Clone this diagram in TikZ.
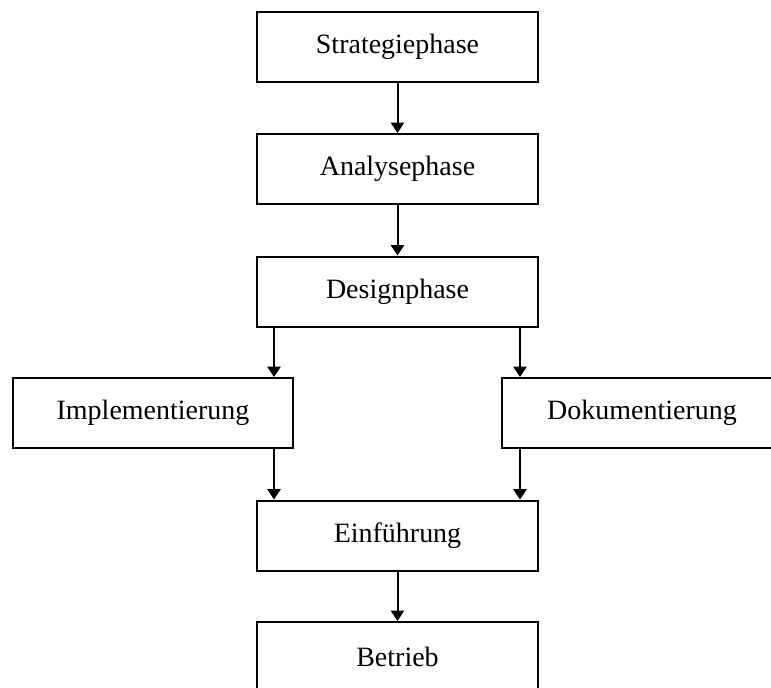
\documentclass[tikz,border=0pt]{standalone}
\usepackage{fontspec}
\setmainfont{Liberation Serif}
\usepackage{tikz}
\usetikzlibrary{arrows.meta,positioning}

\begin{document}
\begin{tikzpicture}[
  phase/.style={rectangle, draw=black, line width=0.5mm, fill=white,
                minimum width=70.25mm, minimum height=17.5mm, inner sep=0pt,
                font=\fontsize{19.9}{24}\selectfont},
  flow/.style={-{Triangle[width=3.3mm,length=2.6mm]}, line width=0.5mm, draw=black},
]
  \useasboundingbox (0,0) rectangle (19.275,-17.2);

  % main line ---------------------------------------------------------------
  \node[phase] (strategie) at (9.9375,-1.175) {Strategiephase};
  \node[phase] (analyse) at (9.9375,-4.225) {Analysephase};
  \node[phase] (design) at (9.9375,-7.2875) {Designphase};

  % parallel branches -------------------------------------------------------
  \node[phase, minimum width=70mm] (impl) at (3.825,-10.325) {Implementierung};
  \node[phase, minimum width=70mm] (doku) at (16.05,-10.325) {Dokumentierung};

  % end of the line ---------------------------------------------------------
  \node[phase] (einf) at (9.9375,-13.3875) {Einführung};
  \node[phase] (betrieb) at (9.9375,-16.425) {Betrieb};

  % connectors --------------------------------------------------------------
  \draw[flow] (strategie) -- (analyse);
  \draw[flow] (analyse) -- (design);
  \draw[flow] ([xshift=4.5mm]design.south west) -- ([xshift=4.5mm]design.south west |- impl.north);
  \draw[flow] ([xshift=-4.75mm]design.south east) -- ([xshift=-4.75mm]design.south east |- doku.north);
  \draw[flow] ([xshift=4.5mm]design.south west |- impl.south) -- ([xshift=4.5mm]einf.north west);
  \draw[flow] ([xshift=-4.75mm]design.south east |- doku.south) -- ([xshift=-4.75mm]einf.north east);
  \draw[flow] (einf) -- (betrieb);
\end{tikzpicture}
\end{document}
